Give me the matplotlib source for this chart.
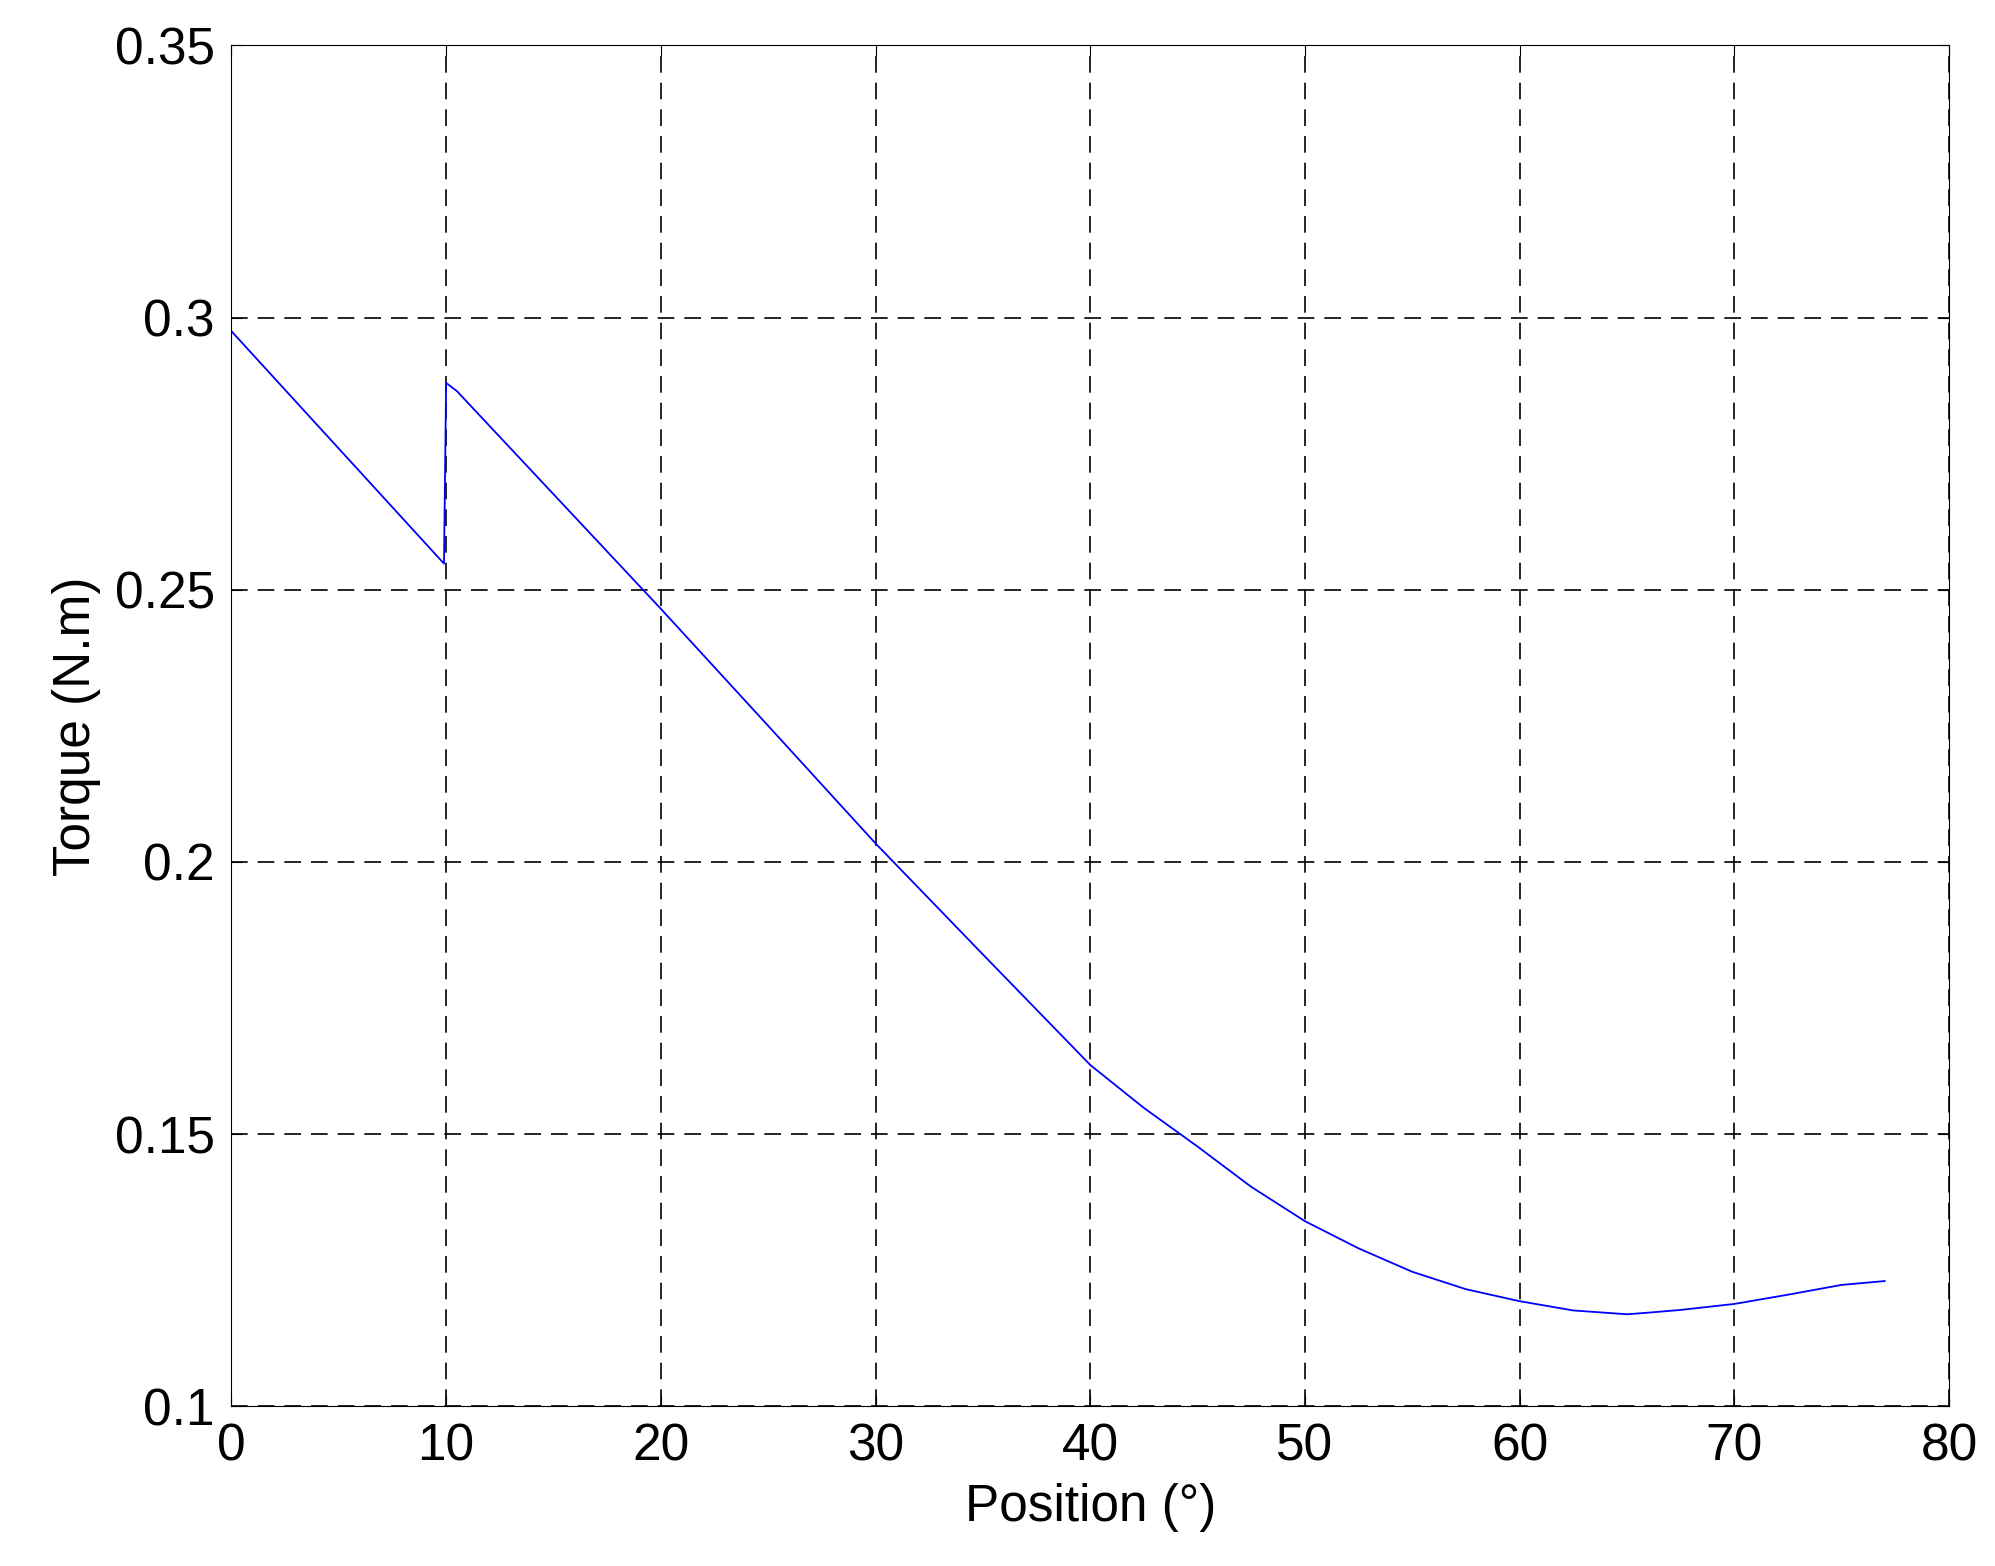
import matplotlib
matplotlib.use("Agg")
import matplotlib.pyplot as plt

plt.rcParams['font.family'] = ['Liberation Sans', 'DejaVu Sans']

# torque curve
position = [0, 9.9, 10.0, 10.5, 20, 25, 30, 35, 40,
            42.5, 45, 47.5, 50, 52.5, 55, 57.5, 60, 62.5, 65, 66, 67.5, 70, 72.5, 75, 77]
torque = [0.2975, 0.2548, 0.2880, 0.2865,
          0.2465, 0.2250, 0.2034, 0.1830, 0.1627, 0.1548, 0.1477, 0.1403, 0.1340, 0.1290,
          0.1247, 0.1215, 0.1193, 0.1176, 0.1169, 0.1172, 0.1177, 0.1188, 0.1205, 0.1223, 0.1230]

fig = plt.figure(figsize=(19.95, 15.66), dpi=100)
ax = fig.add_axes([0.116, 0.102, 0.861, 0.869])
ax.plot(position, torque, color='blue', lw=1.3)

ax.set_xlim(0, 80)
ax.set_ylim(0.1, 0.35)
ax.set_xticks(range(0, 81, 10))
ax.set_yticks([0.1, 0.15, 0.2, 0.25, 0.3, 0.35])
ax.set_yticklabels(['0.1', '0.15', '0.2', '0.25', '0.3', '0.35'])
ax.tick_params(direction='in', labelsize=37, length=8, pad=12, top=True, right=True)
ax.grid(True, color='black', linestyle=(0, (10, 6)), lw=1.2)
ax.set_xlabel('Position (°)', fontsize=37, labelpad=8)
ax.set_ylabel('Torque (N.m)', fontsize=37, labelpad=10)

plt.savefig('out.png', dpi=100)
